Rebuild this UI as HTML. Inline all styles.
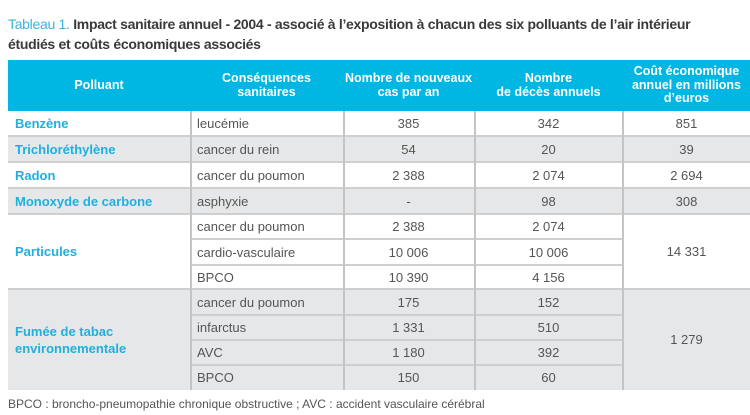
<!DOCTYPE html>
<html><head><meta charset="utf-8"><style>
body{margin:0;width:750px;height:415px;background:#fff;position:relative;overflow:hidden;font-family:"Liberation Sans",sans-serif;color:#555}
.a{position:absolute;box-sizing:border-box}
.t{position:absolute;left:8px;font-size:14px;color:#333;letter-spacing:-0.3px}
.h{position:absolute;top:60px;height:51px;background:#00b6e3}
.ht{position:absolute;color:#fff;font-weight:bold;font-size:12.5px;text-align:center;line-height:13.5px;display:flex;align-items:center;justify-content:center;top:60px;height:51px}
.g{background:#e6e7e8}
.c{position:absolute;font-size:13px;display:flex;align-items:center;color:#555}
.n{justify-content:center}
.b{color:#1fb0de;font-weight:bold;font-size:13px;line-height:17px}
.hl{position:absolute;height:2px;background:#cfcfcf}
.vl{position:absolute;width:1.5px;background:#c4c4c4}
</style></head><body>
<div class="t" style="top:16px"><span style="color:#3ab4de">Tableau 1.</span> <b style="font-weight:bold;color:#3a3a3a">Impact sanitaire annuel - 2004 - associé à l’exposition à chacun des six polluants de l’air intérieur</b></div>
<div class="t" style="top:36px;font-weight:bold;color:#3a3a3a">étudiés et coûts économiques associés</div>

<div class="h" style="left:8px;width:742px"></div>
<div class="ht" style="left:8px;width:182px">Polluant</div>
<div class="ht" style="left:190px;width:153px">Conséquences<br>sanitaires</div>
<div class="ht" style="left:343px;width:131px">Nombre de nouveaux<br>cas par an</div>
<div class="ht" style="left:474px;width:149px">Nombre<br>de décès annuels</div>
<div class="ht" style="left:623px;width:127px">Coût économique<br>annuel en millions<br>d’euros</div>

<div class="a g" style="left:8px;top:136px;width:742px;height:26px"></div>
<div class="a g" style="left:8px;top:188px;width:742px;height:26px"></div>
<div class="a g" style="left:8px;top:289px;width:742px;height:101px"></div>

<div class="hl" style="left:8px;width:742px;top:135px"></div>
<div class="hl" style="left:8px;width:742px;top:161px"></div>
<div class="hl" style="left:8px;width:742px;top:187px"></div>
<div class="hl" style="left:8px;width:742px;top:213px"></div>
<div class="hl" style="left:190px;width:433px;top:238px"></div>
<div class="hl" style="left:190px;width:433px;top:264px"></div>
<div class="hl" style="left:8px;width:742px;top:288px"></div>
<div class="hl" style="left:190px;width:433px;top:314px"></div>
<div class="hl" style="left:190px;width:433px;top:339px"></div>
<div class="hl" style="left:190px;width:433px;top:364px"></div>

<div class="vl" style="left:190px;top:111px;height:279px"></div>
<div class="vl" style="left:343px;top:111px;height:279px"></div>
<div class="vl" style="left:474px;top:111px;height:279px"></div>
<div class="vl" style="left:622px;top:111px;height:279px"></div>

<div class="c b" style="left:15px;top:111px;height:25px">Benzène</div>
<div class="c b" style="left:15px;top:136px;height:26px">Trichloréthylène</div>
<div class="c b" style="left:15px;top:162px;height:26px">Radon</div>
<div class="c b" style="left:15px;top:188px;height:26px">Monoxyde de carbone</div>
<div class="c b" style="left:15px;top:214px;height:75px">Particules</div>
<div class="c b" style="left:15px;top:289px;height:101px">Fumée de tabac<br>environnementale</div>

<div class="c" style="left:197px;top:111px;height:25px">leucémie</div>
<div class="c" style="left:197px;top:136px;height:26px">cancer du rein</div>
<div class="c" style="left:197px;top:162px;height:26px">cancer du poumon</div>
<div class="c" style="left:197px;top:188px;height:26px">asphyxie</div>
<div class="c" style="left:197px;top:214px;height:25px">cancer du poumon</div>
<div class="c" style="left:197px;top:239px;height:26px">cardio-vasculaire</div>
<div class="c" style="left:197px;top:265px;height:24px">BPCO</div>
<div class="c" style="left:197px;top:289px;height:26px">cancer du poumon</div>
<div class="c" style="left:197px;top:315px;height:25px">infarctus</div>
<div class="c" style="left:197px;top:340px;height:25px">AVC</div>
<div class="c" style="left:197px;top:365px;height:25px">BPCO</div>

<div class="c n" style="left:343px;width:131px;top:111px;height:25px">385</div>
<div class="c n" style="left:343px;width:131px;top:136px;height:26px">54</div>
<div class="c n" style="left:343px;width:131px;top:162px;height:26px">2 388</div>
<div class="c n" style="left:343px;width:131px;top:188px;height:26px">-</div>
<div class="c n" style="left:343px;width:131px;top:214px;height:25px">2 388</div>
<div class="c n" style="left:343px;width:131px;top:239px;height:26px">10 006</div>
<div class="c n" style="left:343px;width:131px;top:265px;height:24px">10 390</div>
<div class="c n" style="left:343px;width:131px;top:289px;height:26px">175</div>
<div class="c n" style="left:343px;width:131px;top:315px;height:25px">1 331</div>
<div class="c n" style="left:343px;width:131px;top:340px;height:25px">1 180</div>
<div class="c n" style="left:343px;width:131px;top:365px;height:25px">150</div>

<div class="c n" style="left:474px;width:149px;top:111px;height:25px">342</div>
<div class="c n" style="left:474px;width:149px;top:136px;height:26px">20</div>
<div class="c n" style="left:474px;width:149px;top:162px;height:26px">2 074</div>
<div class="c n" style="left:474px;width:149px;top:188px;height:26px">98</div>
<div class="c n" style="left:474px;width:149px;top:214px;height:25px">2 074</div>
<div class="c n" style="left:474px;width:149px;top:239px;height:26px">10 006</div>
<div class="c n" style="left:474px;width:149px;top:265px;height:24px">4 156</div>
<div class="c n" style="left:474px;width:149px;top:289px;height:26px">152</div>
<div class="c n" style="left:474px;width:149px;top:315px;height:25px">510</div>
<div class="c n" style="left:474px;width:149px;top:340px;height:25px">392</div>
<div class="c n" style="left:474px;width:149px;top:365px;height:25px">60</div>

<div class="c n" style="left:623px;width:127px;top:111px;height:25px">851</div>
<div class="c n" style="left:623px;width:127px;top:136px;height:26px">39</div>
<div class="c n" style="left:623px;width:127px;top:162px;height:26px">2 694</div>
<div class="c n" style="left:623px;width:127px;top:188px;height:26px">308</div>
<div class="c n" style="left:623px;width:127px;top:214px;height:75px">14 331</div>
<div class="c n" style="left:623px;width:127px;top:289px;height:101px">1 279</div>

<div class="a" style="left:8px;top:397px;font-size:12px;color:#555">BPCO : broncho-pneumopathie chronique obstructive ; AVC : accident vasculaire cérébral</div>
</body></html>
